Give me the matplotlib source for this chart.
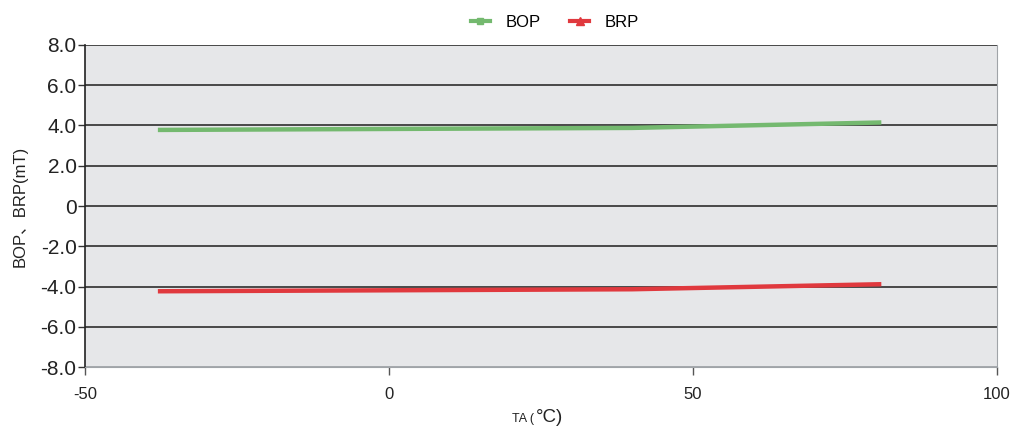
import matplotlib
matplotlib.use("Agg")
import matplotlib.pyplot as plt
from matplotlib.lines import Line2D

ta = [-38, 40, 81]
bop = [3.78, 3.88, 4.15]
brp = [-4.23, -4.13, -3.88]
yticks = [-8, -6, -4, -2, 0, 2, 4, 6, 8]
ytick_labels = ["-8.0", "-6.0", "-4.0", "-2.0", "0", "2.0", "4.0", "6.0", "8.0"]
xticks = [-50, 0, 50, 100]

plt.rcParams['font.family'] = ['Liberation Sans', 'Noto Sans CJK SC', 'DejaVu Sans']

fig = plt.figure(figsize=(10.11, 4.32), dpi=100)
ax = fig.add_axes([0.084, 0.150, 0.902, 0.746])
ax.set_facecolor('#e6e7e9')
ax.set_xlim(-50, 100)
ax.set_ylim(-8, 8)

for y in yticks:
    col = '#3c3c3c' if y != -8 else '#a0a4a8'
    ax.axhline(y, color=col, lw=1.3, zorder=1)

green = '#74b96f'
red = '#e0393e'
ax.plot(ta, bop, color=green, lw=3.2, solid_capstyle='butt', zorder=3)
ax.plot(ta, brp, color=red, lw=3.2, solid_capstyle='butt', zorder=3)

ax.set_yticks(yticks)
ax.set_yticklabels(ytick_labels, fontsize=15, color='#222222')
ax.set_xticks(xticks)
ax.set_xticklabels([str(v) for v in xticks], fontsize=12, color='#222222')
ax.tick_params(axis='y', direction='out', length=5, width=1, color='#333333', pad=1)
ax.tick_params(axis='x', direction='out', length=6, width=1, color='#555555', pad=8)

ax.spines['left'].set_color('#222222')
ax.spines['left'].set_linewidth(1.2)
ax.spines['right'].set_color('#a0a4a8')
ax.spines['top'].set_visible(False)
ax.spines['bottom'].set_color('#a0a4a8')

ax.set_ylabel('BOP、BRP(mT)', fontsize=12, color='#222222', labelpad=9)

fig.text(0.5277, 0.022, 'TA (', fontsize=9, color='#222222', ha='right', va='baseline')
fig.text(0.5297, 0.022, '°C)', fontsize=13.5, color='#222222', ha='left', va='baseline')

handles = [Line2D([0], [0], color=green, lw=3, marker='s', markersize=5),
           Line2D([0], [0], color=red, lw=3, marker='^', markersize=6)]
fig.legend(handles, ['BOP', 'BRP'], loc='upper center', bbox_to_anchor=(0.549, 1.0),
           ncol=2, frameon=False, fontsize=12, handlelength=1.1, columnspacing=1.8,
           handletextpad=0.95)

fig.savefig('out.png', dpi=100)
